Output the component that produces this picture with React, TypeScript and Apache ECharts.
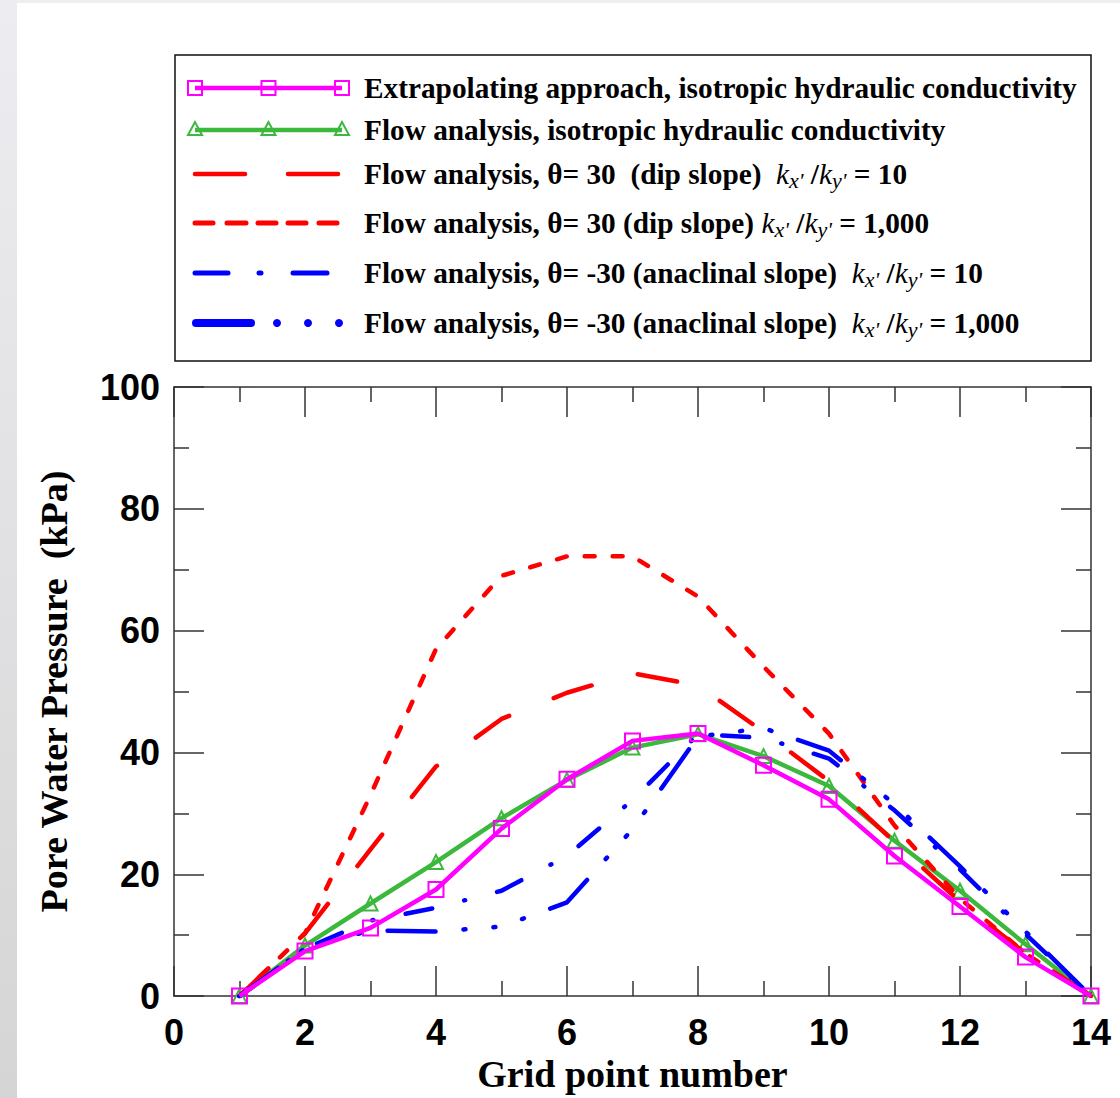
import React, { useEffect, useRef } from "react";
import * as echarts from "echarts";

// ---- data ----
const gridPoints = [1, 2, 3, 4, 5, 6, 7, 8, 9, 10, 11, 12, 13, 14];
const extrapolatingIso = [0, 7.4, 11.2, 17.5, 27.5, 35.6, 41.9, 43.1, 37.9, 32.3, 23.0, 14.7, 6.4, 0];
const flowIso = [0, 8.3, 15.2, 22.0, 29.2, 35.5, 40.8, 43.0, 39.4, 34.5, 25.5, 17.3, 8.5, 0];
const dipSlope10 = [0, 10.3, 24.1, 37.7, 45.5, 49.8, 53.0, 51.0, 43.4, 35.3, 25.3, 15.5, 7.0, 0];
const dipSlope1000 = [0, 10.3, 33.0, 57.0, 69.0, 72.2, 72.2, 65.6, 54.1, 43.1, 28.0, 16.0, 7.0, 0];
const anaclinal10 = [0, 7.8, 12.4, 14.5, 17.3, 23.0, 32.2, 43.0, 42.4, 39.0, 30.5, 20.8, 10.2, 0];
const anaclinal1000 = [0, 7.8, 10.8, 10.6, 11.4, 15.4, 27.4, 42.6, 44.0, 40.3, 31.5, 21.3, 10.6, 0];

const seriesNames = [
  "Extrapolating approach, isotropic hydraulic conductivity",
  "Flow analysis, isotropic hydraulic conductivity",
  "Flow analysis, θ= 30 (dip slope) kx'/ky' = 10",
  "Flow analysis, θ= 30 (dip slope) kx'/ky' = 1,000",
  "Flow analysis, θ= -30 (anaclinal slope) kx'/ky' = 10",
  "Flow analysis, θ= -30 (anaclinal slope) kx'/ky' = 1,000",
];

const legendRich = [
  "{n|Extrapolating approach, isotropic hydraulic conductivity}",
  "{n|Flow analysis, isotropic hydraulic conductivity}",
  "{n|Flow analysis, θ= 30  (dip slope)  }{k|k}{s|x'}{n| /}{k|k}{s|y'}{n| = 10}",
  "{n|Flow analysis, θ= 30 (dip slope) }{k|k}{s|x'}{n| /}{k|k}{s|y'}{n| = 1,000}",
  "{n|Flow analysis, θ= -30 (anaclinal slope)  }{k|k}{s|x'}{n| /}{k|k}{s|y'}{n| = 10}",
  "{n|Flow analysis, θ= -30 (anaclinal slope)  }{k|k}{s|x'}{n| /}{k|k}{s|y'}{n| = 1,000}",
];

const MAGENTA = "#ff00ff";
const GREEN = "#3cb83c";
const RED = "#ff0000";
const BLUE = "#0000ff";
const SERIF = "'Liberation Serif', 'Times New Roman', serif";
const SANS = "'Liberation Sans', Arial, sans-serif";

const toPairs = (vals: number[]) => gridPoints.map((x, i) => [x, vals[i]]);

function legendGraphics() {
  const els: any[] = [];
  els.push({
    type: "rect",
    shape: { x: 175, y: 55, width: 916, height: 306 },
    style: { fill: "#fff", stroke: "#111", lineWidth: 1.5 },
    z: 10,
  });
  const rows = [88, 130, 174, 223, 273, 323];
  const x0 = 195;
  const x1 = 342;
  // row 1: magenta with squares
  els.push({ type: "line", shape: { x1: x0, y1: rows[0], x2: x1, y2: rows[0] }, style: { stroke: MAGENTA, lineWidth: 4.5 }, z: 11 });
  [x0, (x0 + x1) / 2, x1].forEach((cx) =>
    els.push({ type: "rect", shape: { x: cx - 7, y: rows[0] - 7, width: 14, height: 14 }, style: { fill: "none", stroke: MAGENTA, lineWidth: 2 }, z: 12 })
  );
  // row 2: green with triangles
  els.push({ type: "line", shape: { x1: x0, y1: rows[1], x2: x1, y2: rows[1] }, style: { stroke: GREEN, lineWidth: 4.5 }, z: 11 });
  [x0, (x0 + x1) / 2, x1].forEach((cx) =>
    els.push({
      type: "polygon",
      shape: { points: [[cx, rows[1] - 8], [cx - 7, rows[1] + 5], [cx + 7, rows[1] + 5]] },
      style: { fill: "none", stroke: GREEN, lineWidth: 2 },
      z: 12,
    })
  );
  // row 3: red long dash
  [[195, 245], [288, 338]].forEach(([a, b]) =>
    els.push({ type: "line", shape: { x1: a, y1: rows[2], x2: b, y2: rows[2] }, style: { stroke: RED, lineWidth: 4.5, lineCap: "round" }, z: 11 })
  );
  // row 4: red short dash
  [[195, 213], [227, 246], [258, 276], [288, 306], [319, 337]].forEach(([a, b]) =>
    els.push({ type: "line", shape: { x1: a, y1: rows[3], x2: b, y2: rows[3] }, style: { stroke: RED, lineWidth: 5, lineCap: "round" }, z: 11 })
  );
  // row 5: blue dash dot dash
  [[195, 228], [259, 261], [293, 327]].forEach(([a, b]) =>
    els.push({ type: "line", shape: { x1: a, y1: rows[4], x2: b, y2: rows[4] }, style: { stroke: BLUE, lineWidth: 5, lineCap: "round" }, z: 11 })
  );
  // row 6: blue thick dash + three dots
  els.push({ type: "line", shape: { x1: 196, y1: rows[5], x2: 251, y2: rows[5] }, style: { stroke: BLUE, lineWidth: 8, lineCap: "round" }, z: 11 });
  [277, 308, 339].forEach((cx) =>
    els.push({ type: "circle", shape: { cx, cy: rows[5], r: 4 }, style: { fill: BLUE }, z: 11 })
  );
  // texts
  legendRich.forEach((txt, i) =>
    els.push({
      type: "text",
      x: 364,
      y: rows[i],
      z: 12,
      style: {
        text: txt,
        verticalAlign: "middle",
        align: "left",
        fill: "#000",
        rich: {
          n: { fontFamily: SERIF, fontWeight: "bold", fontSize: 29.3, lineHeight: 34, fill: "#000" },
          k: { fontFamily: SERIF, fontStyle: "italic", fontWeight: "normal", fontSize: 29.3, lineHeight: 34, fill: "#000" },
          s: { fontFamily: SERIF, fontStyle: "italic", fontWeight: "normal", fontSize: 22, lineHeight: 18, verticalAlign: "bottom", fill: "#000" },
        },
      },
    })
  );
  return els;
}

export default function App() {
  const ref = useRef<HTMLDivElement>(null);
  useEffect(() => {
    const chart = echarts.init(ref.current!, null, { renderer: "svg" });
    const axisCommon = {
      type: "value" as const,
      axisLine: { show: true, onZero: false, lineStyle: { color: "#333", width: 1.5 } },
      axisTick: { show: true, inside: true, length: 30, lineStyle: { color: "#333", width: 1.5 } },
      minorTick: { show: true, splitNumber: 2, length: 15, lineStyle: { color: "#333", width: 1.5 } },
      splitLine: { show: false },
      minorSplitLine: { show: false },
    };
    const option: any = {
      animation: false,
      backgroundColor: "#fff",
      grid: { left: 174, right: 29, top: 387, bottom: 101, containLabel: false },
      xAxis: [
        {
          ...axisCommon,
          position: "bottom",
          min: 0,
          max: 14,
          interval: 2,
          name: "Grid point number",
          nameLocation: "middle",
          nameGap: 58,
          nameTextStyle: { fontFamily: SERIF, fontWeight: "bold", fontSize: 38, color: "#000" },
          axisLabel: { show: true, margin: 18, fontFamily: SANS, fontWeight: "bold", fontSize: 36, color: "#000" },
        },
        {
          ...axisCommon,
          position: "top",
          min: 0,
          max: 14,
          interval: 2,
          axisLabel: { show: false },
        },
      ],
      yAxis: [
        {
          ...axisCommon,
          position: "left",
          min: 0,
          max: 100,
          interval: 20,
          name: "Pore Water Pressure  (kPa)",
          nameLocation: "middle",
          nameGap: 101,
          nameTextStyle: { fontFamily: SERIF, fontWeight: "bold", fontSize: 38, color: "#000" },
          axisLabel: { show: true, margin: 14, fontFamily: SANS, fontWeight: "bold", fontSize: 36, color: "#000" },
        },
        {
          ...axisCommon,
          position: "right",
          min: 0,
          max: 100,
          interval: 20,
          axisLabel: { show: false },
        },
      ],
      series: [
        {
          name: seriesNames[1],
          type: "line",
          data: toPairs(flowIso),
          symbol: "triangle",
          symbolSize: 14,
          showAllSymbol: true,
          lineStyle: { color: GREEN, width: 4.5 },
          itemStyle: { color: "rgba(0,0,0,0)", borderColor: GREEN, borderWidth: 2 },
          z: 3,
        },
        {
          name: seriesNames[2],
          type: "line",
          data: toPairs(dipSlope10),
          symbol: "none",
          lineStyle: { color: RED, width: 4.5, type: [40, 48], cap: "round" },
          z: 4,
        },
        {
          name: seriesNames[3],
          type: "line",
          data: toPairs(dipSlope1000),
          symbol: "none",
          lineStyle: { color: RED, width: 4.5, type: [10, 18], cap: "round" },
          z: 4,
        },
        {
          name: seriesNames[4],
          type: "line",
          data: toPairs(anaclinal10),
          symbol: "none",
          lineStyle: { color: BLUE, width: 4.5, type: [27, 33, 1, 33], cap: "round" },
          z: 5,
        },
        {
          name: seriesNames[5],
          type: "line",
          data: toPairs(anaclinal1000),
          symbol: "none",
          lineStyle: { color: BLUE, width: 4.5, type: [48, 28, 2, 28, 2, 28, 2, 28], cap: "round" },
          z: 5,
        },
        {
          name: seriesNames[0],
          type: "line",
          data: toPairs(extrapolatingIso),
          symbol: "rect",
          symbolSize: 15,
          showAllSymbol: true,
          lineStyle: { color: MAGENTA, width: 4.5 },
          itemStyle: { color: "rgba(0,0,0,0)", borderColor: MAGENTA, borderWidth: 2 },
          z: 6,
        },
      ],
      graphic: [
        {
          type: "rect",
          shape: { x: 0, y: 0, width: 1120, height: 3 },
          style: { fill: "#eeeef2" },
          z: 0,
        },
        {
          type: "rect",
          shape: { x: 0, y: 0, width: 17, height: 1098 },
          style: {
            fill: new echarts.graphic.LinearGradient(0, 0, 0, 1, [
              { offset: 0, color: "#ededf1" },
              { offset: 1, color: "#d5d5d5" },
            ]),
          },
          z: 0,
        },
        ...legendGraphics(),
      ],
    };
    chart.setOption(option);
    return () => chart.dispose();
  }, []);
  return (
    <div
      ref={ref}
      style={{ position: "fixed", left: 0, top: 0, width: 1120, height: 1098, background: "#fff" }}
    />
  );
}
